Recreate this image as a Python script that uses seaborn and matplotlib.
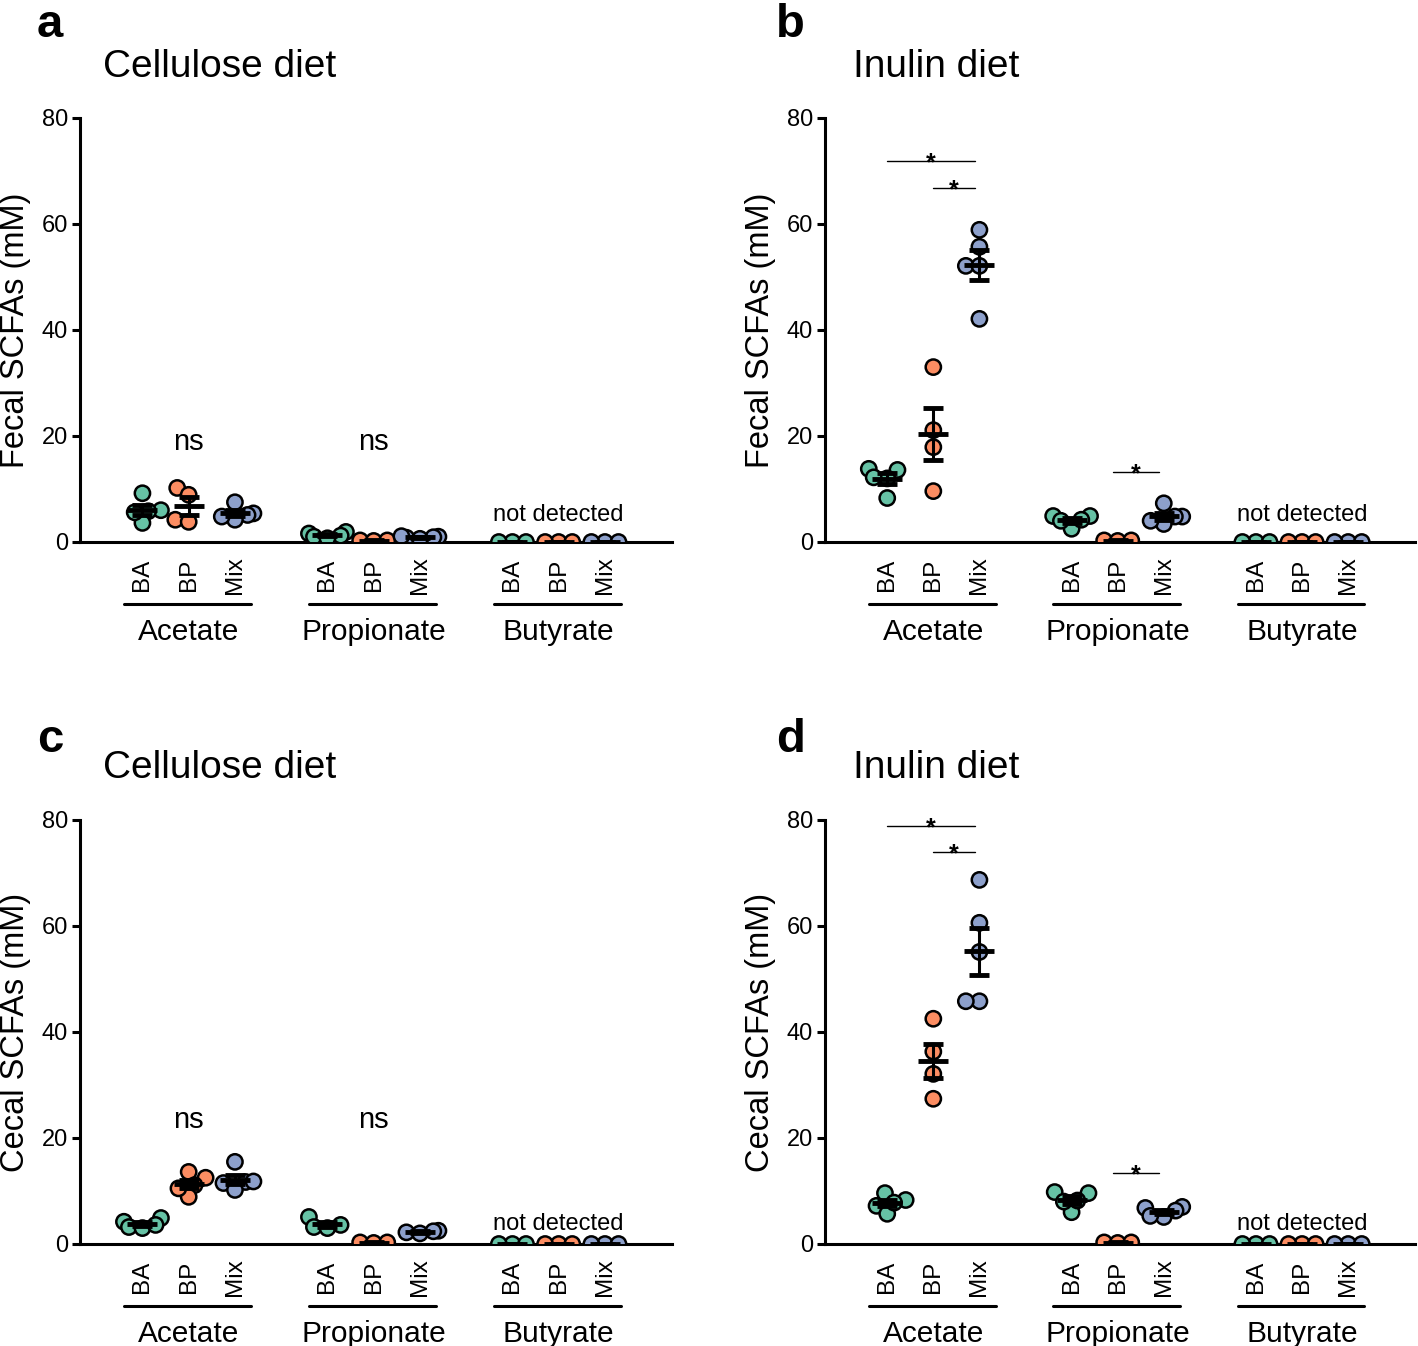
import numpy as np
import pandas as pd
import matplotlib
matplotlib.use('Agg')
import matplotlib.pyplot as plt
import seaborn as sns

strains = ['BA', 'BP', 'Mix']
acids = ['Acetate', 'Propionate', 'Butyrate']
strain_colors = ['#66c2a5', '#fc8d62', '#8da0cb']

# a: fecal SCFAs, cellulose diet  (per acid: BA, BP, Mix)
a_acetate = [[9.2, 6.0, 5.8, 3.6, 5.6], [10.2, 8.9, 4.2, 3.8], [7.5, 5.4, 5.1, 4.2, 4.8]]
a_propionate = [[1.9, 1.6, 1.2, 1.0, 0.7], [0.3, 0.2, 0.3], [1.0, 0.8, 0.9, 0.6, 1.1]]
a_butyrate = [[0, 0, 0], [0, 0, 0], [0, 0, 0]]

# b: fecal SCFAs, inulin diet
b_acetate = [[13.8, 13.6, 8.3, 12.0, 12.2], [33.0, 21.1, 17.9, 9.6], [58.9, 55.7, 52.1, 52.1, 42.1]]
b_propionate = [[4.9, 4.9, 2.5, 4.2, 4.0], [0.3, 0.2, 0.3], [7.3, 4.8, 4.8, 3.4, 4.0]]
b_butyrate = [[0, 0, 0], [0, 0, 0], [0, 0, 0]]

# c: cecal SCFAs, cellulose diet
c_acetate = [[4.9, 4.2, 3.2, 3.0, 3.6], [13.6, 12.5, 11.1, 8.9, 10.5], [15.5, 11.7, 11.5, 10.2, 11.8]]
c_propionate = [[5.1, 3.2, 3.0, 3.6], [0.3, 0.2, 0.3], [2.5, 2.2, 2.0, 2.4]]
c_butyrate = [[0, 0, 0], [0, 0, 0], [0, 0, 0]]

# d: cecal SCFAs, inulin diet
d_acetate = [[9.6, 8.3, 7.2, 5.7, 7.8], [42.5, 36.3, 32.1, 27.4], [68.7, 60.6, 55.1, 45.8, 45.8]]
d_propionate = [[9.8, 9.6, 6.0, 8.0, 8.2], [0.3, 0.2, 0.3], [6.8, 7.0, 5.1, 5.3, 6.3]]
d_butyrate = [[0, 0, 0], [0, 0, 0], [0, 0, 0]]

# significance brackets: (from, to, height) in x-position / mM
b_brackets = [(0.0, 1.9, 71.9), (1.0, 1.9, 66.8), (4.9, 5.9, 13.2)]
d_brackets = [(0.0, 1.9, 78.9), (1.0, 1.9, 74.0), (4.9, 5.9, 13.4)]

SWARM_SIZE = 7.5    # marker size used to lay out the swarm (allows overlap)
MARKER_SIZE = 11.0  # marker size actually drawn


def to_frame(acetate, propionate, butyrate):
    rows = []
    for gi, groups in enumerate([acetate, propionate, butyrate]):
        for si, vals in enumerate(groups):
            for v in vals:
                rows.append({'pos': gi * 4 + si, 'strain': strains[si], 'value': v})
    return pd.DataFrame(rows)


def draw_panel(fig, rect, letter, letter_xy, title, title_xy, ylabel, df,
               ns_y=None, nd_y=4.0, brackets=()):
    ax = fig.add_axes(rect)
    sns.swarmplot(
        data=df, x='pos', y='value', hue='strain', hue_order=strains,
        palette=strain_colors, native_scale=True, size=SWARM_SIZE,
        edgecolor='black', linewidth=1.8, legend=False, ax=ax,
        warn_thresh=1,
    )

    stats = df.groupby('pos')['value'].agg(['mean', 'sem']).reset_index()
    ax.errorbar(
        stats['pos'], stats['mean'], yerr=stats['sem'].fillna(0),
        fmt='_', color='black', markersize=22, mew=3.5,
        elinewidth=2.2, capsize=7, capthick=2.6, zorder=5,
    )

    positions = [gi * 4 + si for gi in range(3) for si in range(3)]
    ax.set_xlim(-1.35, 11.45)
    ax.set_ylim(0, 80)
    ax.set_yticks([0, 20, 40, 60, 80])
    ax.set_xticks(positions)
    ax.set_xticklabels(strains * 3, rotation=90, va='center', fontsize=17.5)
    ax.tick_params(axis='x', length=0, pad=23.8)
    ax.tick_params(axis='y', length=5.8, width=2.2, pad=3, labelsize=17)
    sns.despine(ax=ax)
    for side in ['left', 'bottom']:
        ax.spines[side].set_linewidth(2.2)
    ax.set_xlabel('')
    ax.set_ylabel(ylabel, fontsize=23.5)
    ax.yaxis.set_label_coords(-0.083, 0.5)

    trans = ax.get_xaxis_transform()
    for gi, acid in enumerate(acids):
        start = gi * 4
        ax.plot([start - 0.4, start + 2.35], [-0.146, -0.146], transform=trans,
                color='black', lw=2.2, clip_on=False)
        ax.text(start + 1, -0.231, acid, transform=trans, ha='center',
                va='baseline', fontsize=21.5)

    if ns_y is not None:
        for x in [1, 5]:
            ax.text(x, ns_y, 'ns', ha='center', va='baseline', fontsize=21)
    ax.text(9, nd_y, 'not detected', ha='center', va='baseline', fontsize=17)

    for x1, x2, y in brackets:
        ax.plot([x1, x2], [y, y], color='black', lw=1.0, clip_on=False)
        ax.text((x1 + x2) / 2, y - 1.8, '*', ha='center', va='baseline',
                fontsize=18, fontweight='bold')

    fig.text(*letter_xy, letter, fontsize=34, fontweight='bold',
             va='baseline', ha='left')
    fig.text(*title_xy, title, fontsize=28, va='center', ha='left')
    return ax


sns.set_theme(style='ticks', rc={
    'axes.edgecolor': 'black', 'xtick.color': 'black', 'ytick.color': 'black',
    'text.color': 'black', 'axes.labelcolor': 'black',
})
plt.rcParams['font.family'] = ['Liberation Sans', 'DejaVu Sans']

W, H = 1418, 1346
fig = plt.figure(figsize=(W / 100, H / 100), dpi=100)

top_b = 1 - 542 / H
bot_b = 1 - 1244 / H
h = 424 / H
left_l, w_l = 80 / W, 592 / W
left_r, w_r = 825 / W, 590 / W

axes = [
    draw_panel(fig, [left_l, top_b, w_l, h], 'a', (37 / W, 1 - 37 / H),
               'Cellulose diet', (103 / W, 1 - 67 / H), 'Fecal SCFAs (mM)',
               to_frame(a_acetate, a_propionate, a_butyrate), ns_y=17.4, nd_y=4.0),
    draw_panel(fig, [left_r, top_b, w_r, h], 'b', (776 / W, 1 - 37 / H),
               'Inulin diet', (853 / W, 1 - 67 / H), 'Fecal SCFAs (mM)',
               to_frame(b_acetate, b_propionate, b_butyrate), nd_y=4.0,
               brackets=b_brackets),
    draw_panel(fig, [left_l, bot_b, w_l, h], 'c', (37 / W, 1 - 752 / H),
               'Cellulose diet', (103 / W, 1 - 768 / H), 'Cecal SCFAs (mM)',
               to_frame(c_acetate, c_propionate, c_butyrate), ns_y=21.9, nd_y=2.6),
    draw_panel(fig, [left_r, bot_b, w_r, h], 'd', (776 / W, 1 - 752 / H),
               'Inulin diet', (853 / W, 1 - 768 / H), 'Cecal SCFAs (mM)',
               to_frame(d_acetate, d_propionate, d_butyrate), nd_y=2.6,
               brackets=d_brackets),
]

# lay the swarms out with the small size, then draw the points bigger so they
# overlap a little like the original figure
fig.canvas.draw()
for ax in axes:
    for coll in ax.collections:
        if 'draw' in coll.__dict__:
            del coll.draw
            coll.set_sizes([MARKER_SIZE ** 2])

fig.savefig('out.png', dpi=100)
plt.close(fig)
